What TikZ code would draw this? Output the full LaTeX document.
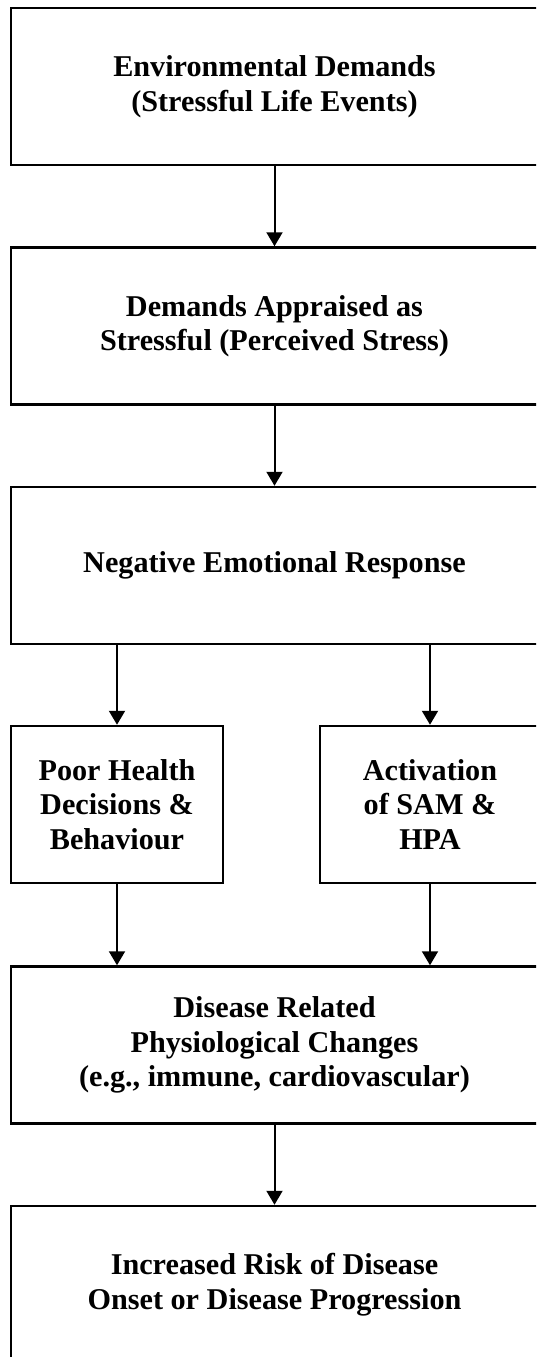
\documentclass[tikz,border=0pt]{standalone}
\usepackage{fontspec}
\setmainfont{Liberation Serif}
\usetikzlibrary{arrows.meta}
\begin{document}
\begin{tikzpicture}[x=1pt,y=-1pt,
  box/.style={draw, line width=2.5pt, align=center, inner sep=0pt,
    font=\fontsize{30.2}{34.5}\selectfont\bfseries},
  wide/.style={box, minimum width=527pt, minimum height=157pt},
  narrow/.style={box, minimum height=157pt},
  conn/.style={line width=2pt, -{Triangle[length=14pt,width=16pt]}}]
\useasboundingbox (0,0) rectangle (536,1357);
\clip (0,0) rectangle (536,1357);
\node[wide] (b1) at (274.5,86.5) {Environmental Demands\\(Stressful Life Events)};
\node[wide] (b2) at (274.5,326) {Demands Appraised as\\Stressful (Perceived Stress)};
\node[wide] (b3) at (274.5,565.5) {Negative Emotional Response};
\node[narrow, minimum width=212pt] (p) at (117,804.5) {Poor Health\\Decisions \&\\Behaviour};
\node[narrow, minimum width=220pt] (a) at (430,804.5) {Activation\\of SAM \&\\HPA};
\node[wide] (b5) at (274.5,1045) {Disease Related\\Physiological Changes\\(e.g., immune, cardiovascular)};
\node[wide] (b6) at (274.5,1284.5) {Increased Risk of Disease\\Onset or Disease Progression};
\draw[conn] (b1.south) -- (b2.north);
\draw[conn] (b2.south) -- (b3.north);
\draw[conn] (b3.south -| p.north) -- (p.north);
\draw[conn] (b3.south -| a.north) -- (a.north);
\draw[conn] (p.south) -- (p.south |- b5.north);
\draw[conn] (a.south) -- (a.south |- b5.north);
\draw[conn] (b5.south) -- (b6.north);
\end{tikzpicture}
\end{document}
